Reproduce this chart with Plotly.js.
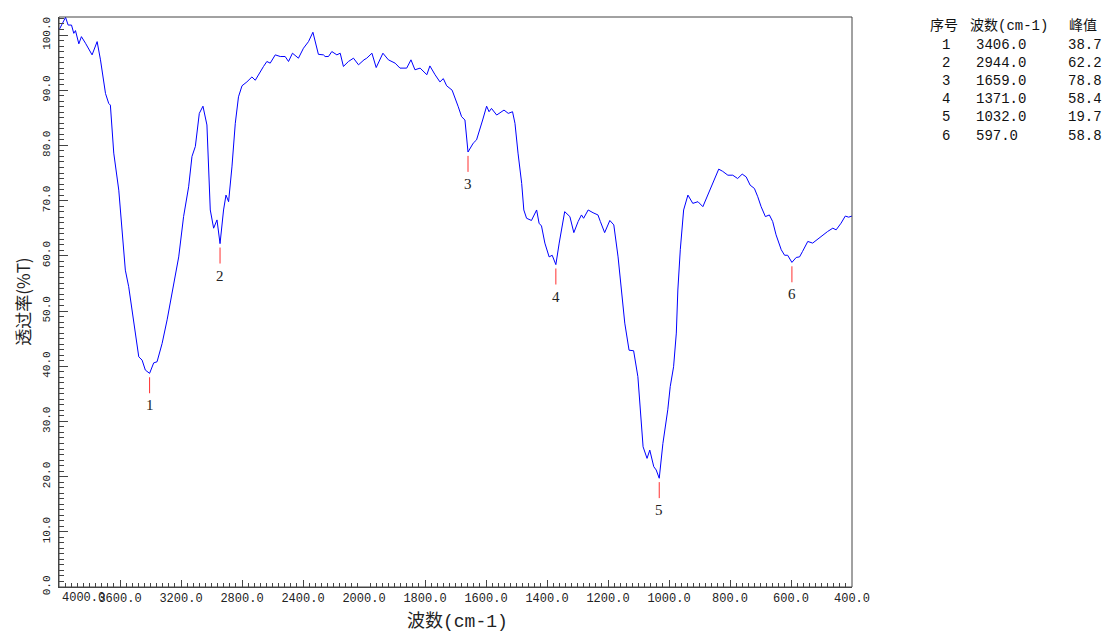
<!DOCTYPE html>
<html>
<head>
<meta charset="utf-8">
<script src="https://cdn.plot.ly/plotly-3.0.1.min.js"></script>
<style>html,body{margin:0;padding:0;background:#fff;}#chart{width:1112px;height:635px;}</style>
</head>
<body>
<div id="chart"></div>
<script>
// Spectrum: wavenumber (cm-1) and transmittance (%T)
const wavenumbers = [4000,3979,3957,3940,3918,3903,3892,3870,3853,3826,3783,3750,3728,3695,3674,3663,3641,3608,3586,3565,3543,3510,3477,3455,3434,3406,3379,3357,3324,3291,3248,3215,3183,3150,3128,3106,3080,3056,3030,3008,2986,2964,2944,2921,2905,2888,2866,2844,2823,2800,2768,2735,2713,2680,2659,2637,2615,2582,2549,2517,2495,2469,2430,2397,2364,2335,2299,2266,2255,2233,2211,2178,2156,2135,2102,2069,2036,2000,
1991,1974,1960,1938,1920,1898,1882,1860,1846,1833,1816,1794,1784,1767,1751,1740,1729,1711,1702,1691,1680,1669,1659,1642,1631,1620,1611,1598,1590,1582,1565,1541,1527,1513,1505,1495,1483,1476,1467,1451,1434,1426,1418,1407,1393,1383,1371,1360,1342,1325,1312,1298,1287,1280,1265,1249,1233,1225,1211,1194,1181,1167,1156,1145,1131,1116,1102,1094,1085,1072,1063,1050,1042,1032,1020,1004,996,985,976,971,963,952,938,922,905,889,873,856,837,824,807,791,775,760,747,734,720,709,698,684,671,660,649,632,621,611,597,583,572,562,545,529,513,496,480,463,452,436,422,411,403,400];
const transmittance = [100.9,102.1,103.2,101.8,101.8,100.3,100.8,98.4,99.7,98.5,96.4,98.8,95.5,89.4,87.6,87.3,78.6,71.9,64.7,57.4,54.4,47.8,41.7,41.1,39.3,38.7,40.6,40.8,44.1,48.4,55.0,59.8,67.1,72.5,78.0,79.8,85.8,87.1,83.7,68.3,65.0,66.5,62.2,68.3,71.0,69.8,76.1,84.0,88.8,90.8,91.5,92.4,91.8,93.4,94.3,95.2,94.9,96.4,96.1,96.1,95.2,96.7,95.8,97.6,98.8,100.5,96.5,96.4,96.1,96.1,97.0,96.4,96.7,94.3,95.2,95.8,94.6,95.5,
95.8,96.7,94.1,96.7,95.5,94.9,94.0,94.0,95.5,93.7,94.0,92.8,94.4,92.8,91.5,92.1,90.8,90.0,88.8,87.0,85.2,84.6,78.8,80.4,81.0,82.8,84.6,87.1,86.1,86.7,85.5,86.4,85.8,86.1,84.0,78.6,73.1,68.3,66.8,66.4,68.3,65.9,65.4,62.3,59.8,60.1,58.4,62.3,68.0,67.1,64.2,66.2,67.4,66.8,68.3,67.8,67.4,66.2,64.2,66.4,65.6,59.8,53.8,47.8,42.9,42.8,38.1,32.1,25.4,23.3,24.8,21.8,21.2,19.7,26.0,32.1,36.3,39.9,46.0,53.8,61.1,68.3,71.0,69.5,69.8,68.9,71.0,73.4,75.7,75.3,74.6,74.6,74.0,74.8,74.3,72.8,72.2,70.7,68.9,67.1,67.4,66.2,63.8,61.1,60.1,60.1,58.8,59.7,59.8,60.8,62.6,62.3,63.0,63.6,64.4,65.0,64.7,65.9,67.2,67.0,67.2,67.2];

// Peak table
const peakNo = [1,2,3,4,5,6];
const peakWave = [3406.0,2944.0,1659.0,1371.0,1032.0,597.0];
const peakVal = [38.7,62.2,78.8,58.4,19.7,58.8];

// Axis ticks
const upperTicks = [4000,3600,3200,2800,2400];
const lowerTicks = [2000,1800,1600,1400,1200,1000,800,600,400];

const MONO = 'Liberation Mono, Noto Sans CJK SC, monospace';
const AX = '#444';

// split at 2000 cm-1 (the x scale changes there)
const upX = [], upY = [], loX = [], loY = [];
wavenumbers.forEach((w,i)=>{
  if (w >= 2000) { upX.push(w); upY.push(transmittance[i]); }
  if (w <= 2000) { loX.push(w); loY.push(transmittance[i]); }
});

const traces = [
  {x: upX, y: upY, xaxis:'x', yaxis:'y', type:'scatter', mode:'lines', line:{color:'#0000ff', width:1}, hoverinfo:'x+y'},
  {x: loX, y: loY, xaxis:'x2', yaxis:'y', type:'scatter', mode:'lines', line:{color:'#0000ff', width:1}, hoverinfo:'x+y'}
];

const split = 1000/2600;
const axCommon = {
  ticks:'inside', ticklen:7, tickcolor:AX, tickwidth:1,
  showline:true, linecolor:AX, linewidth:1, showgrid:false, zeroline:false,
  tickfont:{family:MONO, size:12, color:'#222'}, anchor:'y'
};

const shapes = [
  {type:'rect', xref:'paper', yref:'paper', x0:0, x1:1, y0:0, y1:1, line:{color:AX, width:1}}
];
const annotations = [
  {text:'4000.0', xref:'x', yref:'paper', x:4000, y:0, xanchor:'left', yanchor:'top', xshift:1, yshift:-2, showarrow:false, font:{family:MONO, size:12, color:'#222'}},
  {text:'波数(cm-1)', xref:'paper', yref:'paper', x:0.503, y:-0.06, xanchor:'center', yanchor:'middle', showarrow:false, font:{family:MONO, size:18, color:'#222'}},
  {text:'透过率(%T)', xref:'paper', yref:'paper', x:-0.047, y:0.5, xanchor:'center', yanchor:'middle', textangle:-90, showarrow:false, font:{family:'Noto Sans CJK SC', size:17, color:'#222'}}
];

peakWave.forEach((w,i)=>{
  const xr = w >= 2000 ? 'x' : 'x2';
  shapes.push({type:'line', xref:xr, yref:'y', x0:w, x1:w, y0:peakVal[i]-0.7, y1:peakVal[i]-3.6, line:{color:'#ff3030', width:1}});
  annotations.push({text:String(peakNo[i]), xref:xr, yref:'y', x:w, y:peakVal[i]-5.8, xanchor:'center', yanchor:'middle', showarrow:false, font:{family:'Liberation Serif, serif', size:15, color:'#222'}});
});

// table on the right
const px = v => (v - 59) / 793;
const py = v => (587 - v) / 570;
const tfont = {family:MONO, size:14, color:'#111'};
annotations.push({text:'序号', xref:'paper', yref:'paper', x:px(928), y:py(26), xanchor:'left', yanchor:'middle', showarrow:false, font:tfont});
annotations.push({text:'波数(cm-1)', xref:'paper', yref:'paper', x:px(968), y:py(26), xanchor:'left', yanchor:'middle', showarrow:false, font:tfont});
annotations.push({text:'峰值', xref:'paper', yref:'paper', x:px(1067), y:py(26), xanchor:'left', yanchor:'middle', showarrow:false, font:tfont});
peakNo.forEach((n,i)=>{
  const yy = py(45 + 18.1*i);
  annotations.push({text:String(n), xref:'paper', yref:'paper', x:px(945.5), y:yy, xanchor:'center', yanchor:'middle', showarrow:false, font:tfont});
  annotations.push({text:peakWave[i].toFixed(1), xref:'paper', yref:'paper', x:px(974), y:yy, xanchor:'left', yanchor:'middle', showarrow:false, font:tfont});
  annotations.push({text:peakVal[i].toFixed(1), xref:'paper', yref:'paper', x:px(1104), y:yy, xanchor:'right', yanchor:'middle', showarrow:false, font:tfont});
});

const layout = {
  width:1112, height:635,
  margin:{l:59, r:260, t:17, b:48, pad:0},
  paper_bgcolor:'#fff', plot_bgcolor:'#fff',
  showlegend:false,
  xaxis: Object.assign({}, axCommon, {
    domain:[0, split], range:[4000, 2000],
    tickmode:'array', tickvals:upperTicks, ticktext:upperTicks.map(v => v===4000 ? '' : v.toFixed(1)),
    minor:{ticks:'inside', ticklen:4, tickcolor:AX, tickmode:'linear', tick0:0, dtick:40, showgrid:false}
  }),
  xaxis2: Object.assign({}, axCommon, {
    domain:[split, 1], range:[2000, 400],
    tickmode:'array', tickvals:lowerTicks, ticktext:lowerTicks.map(v => v.toFixed(1)),
    minor:{ticks:'inside', ticklen:4, tickcolor:AX, tickmode:'linear', tick0:0, dtick:20, showgrid:false}
  }),
  yaxis: {
    domain:[0,1], range:[0, 103.26], anchor:'x',
    tickmode:'linear', tick0:0, dtick:10, tickformat:'.1f', tickangle:-90,
    ticks:'inside', ticklen:9, tickcolor:AX, ticklabelstandoff:4,
    minor:{ticks:'inside', ticklen:5, tickcolor:AX, dtick:1, showgrid:false},
    showline:true, linecolor:AX, showgrid:false, zeroline:false,
    tickfont:{family:MONO, size:11, color:'#222'}
  },
  shapes: shapes,
  annotations: annotations
};

Plotly.newPlot('chart', traces, layout, {displayModeBar:false, staticPlot:true});
</script>
</body>
</html>
